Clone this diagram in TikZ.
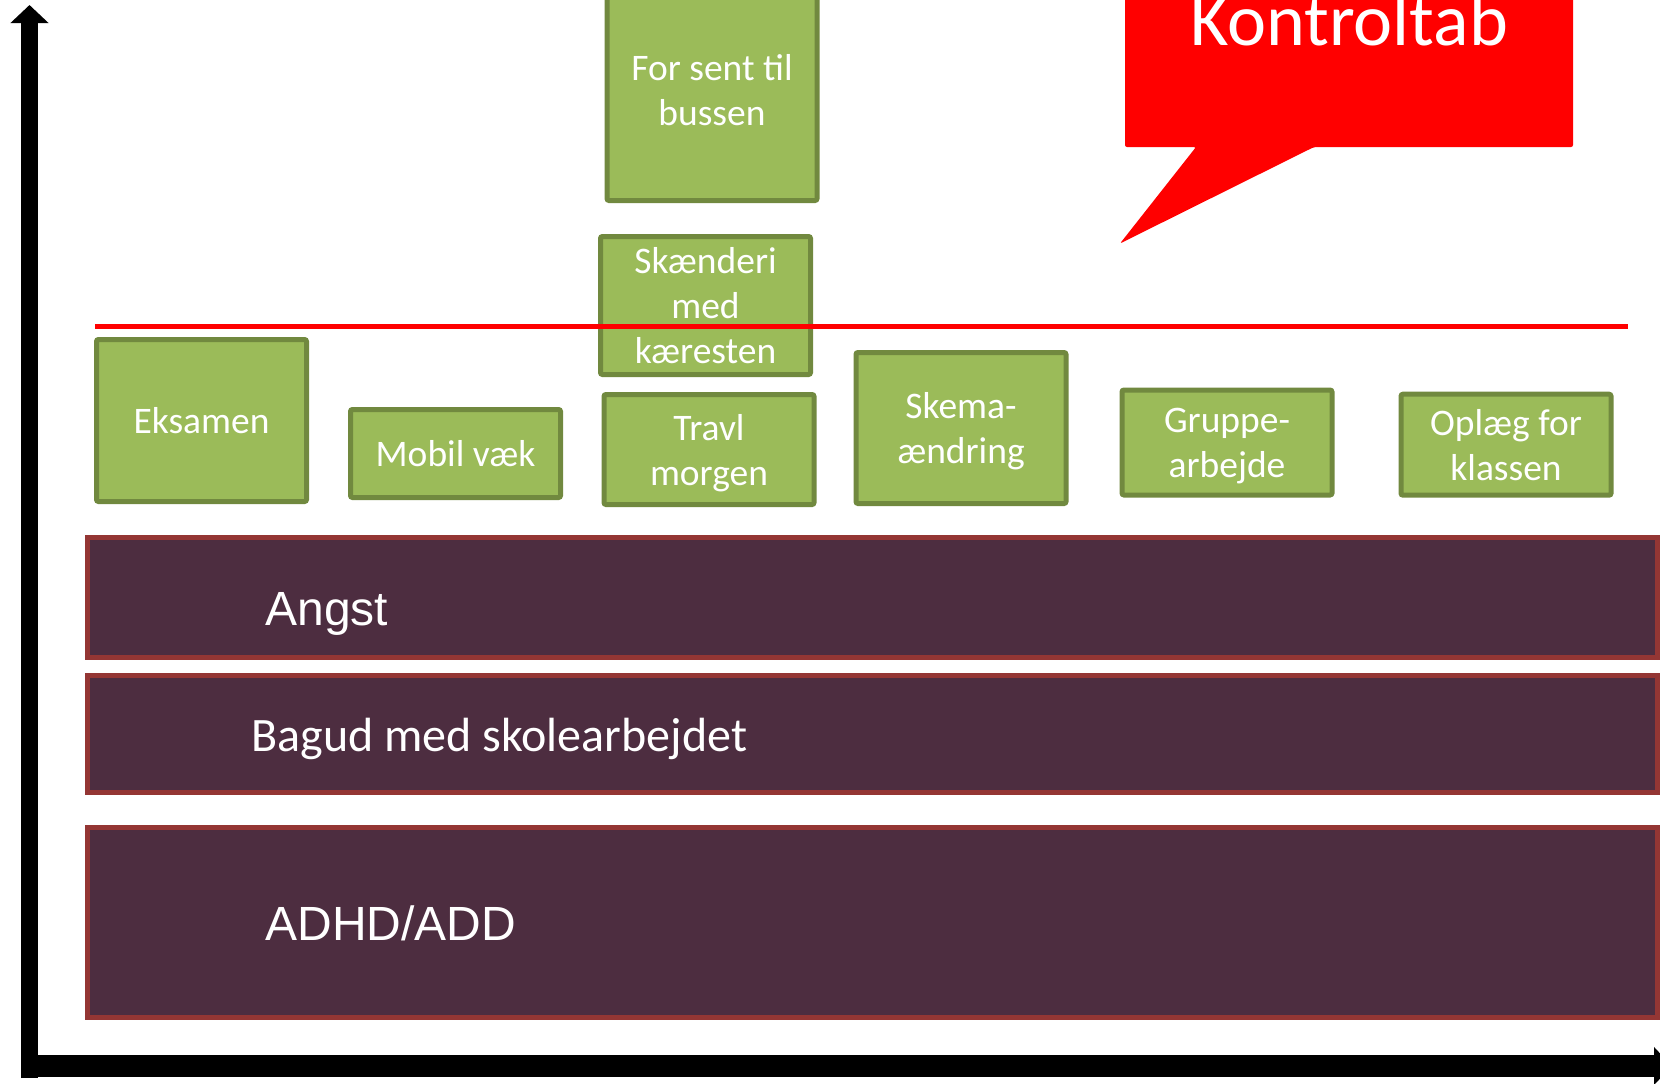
\documentclass[tikz,border=0pt]{standalone}
\usepackage{amsmath}
\usepackage{fontspec}
\setmainfont{Carlito}
\newfontfamily\arialfont{Liberation Sans}
\usetikzlibrary{arrows.meta}
\definecolor{boxgreen}{HTML}{9BBB59}
\definecolor{boxedge}{HTML}{71893F}
\definecolor{barfill}{HTML}{4D2D40}
\definecolor{baredge}{HTML}{943634}
\newcommand{\gsize}{\fontsize{18.75pt}{22.5pt}\selectfont}

\begin{document}
\begin{tikzpicture}[
		x=0.5pt, y=-0.5pt,
		axis/.style={black,-{Triangle[length=9pt,width=18.5pt]}},
		gbox/.style={draw=boxedge,fill=boxgreen,line width=2.5pt,rounded corners=1pt,
			text=white,font=\gsize,align=center,inner sep=0pt,minimum width=105pt},
		bar/.style={draw=baredge,fill=barfill,line width=2.5pt},
		bartext/.style={text=white,anchor=west,inner sep=0pt},
	]
		\useasboundingbox (0,0) rectangle (1660,1083);
		% axes
		\draw[axis,line width=8.5pt] (29.5,1078) -- (29.5,5);
		\draw[axis,line width=11pt] (21,1066) -- (1672,1066);
		% bottom layers
		\draw[bar] (87.5,537.5) rectangle (1657.5,657.5);
		\draw[bar] (87.5,675.5) rectangle (1657.5,792.5);
		\draw[bar] (87.5,827.5) rectangle (1657.5,1017.5);
		\node[bartext,font=\arialfont\fontsize{24pt}{28pt}\selectfont] (angst) at (265,614) {Angst};
		\node[bartext,font=\fontsize{24pt}{28pt}\selectfont] (bagud) at (251,739) {Bagud med skolearbejdet};
		\node[bartext,font=\arialfont\fontsize{24pt}{28pt}\selectfont] (adhd) at (265,923) {ADHD/ADD};
		% triggers
		\node[gbox,minimum height=81pt] (exam) at (201.5,420.5) {Eksamen};
		\node[gbox,minimum height=44pt] (phone) at (455.5,453.5) {Mobil væk};
		\node[gbox,minimum height=55pt] (morning) at (709,449.5) {Travl\\\smash[b]{morgen}};
		\node[gbox,minimum height=69pt] (fight) at (705.5,305.5) {Skænderi\\med\\kæresten};
		\node[gbox,minimum height=110.5pt] (bus) at (712,90) {For sent til\\bussen};
		\node[gbox,minimum height=75.5pt] (schedule) at (961,428) {Skema-\\\smash[b]{ændring}};
		\node[gbox,minimum height=52.5pt] (group) at (1227,442.5) {Gruppe-\\\smash[b]{arbejde}};
		\node[gbox,minimum height=50.5pt] (talk) at (1506,444.7) {Oplæg for\\klassen};
		% threshold
		\draw[red,line width=2.5pt] (95,326.5) -- (1628,326.5);
		% callout
		\fill[red,rounded corners=1pt] (1125,-40) -- (1573,-40) -- (1573,147) -- (1314,147)
			-- (1120,243.5) -- (1196,147) -- (1125,147) -- cycle;
		\node[text=white,anchor=base,inner sep=0pt,font=\fontsize{37pt}{44pt}\selectfont] (ktab) at (1349,45) {Kontroltab};
	\end{tikzpicture}
\end{document}
